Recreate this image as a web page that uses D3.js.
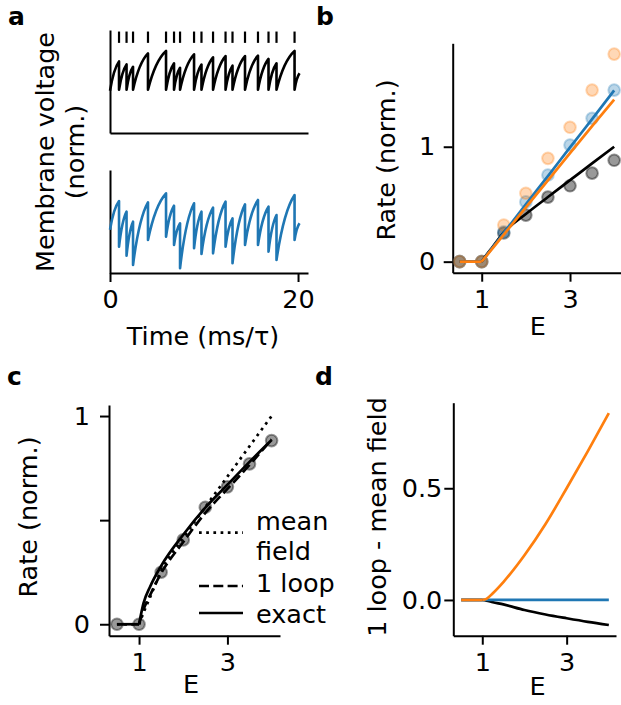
<!DOCTYPE html>
<html>
<head>
<meta charset="utf-8">
<script src="https://cdn.jsdelivr.net/npm/d3@7"></script>
<style>
  body { margin: 0; background: #fff; }
  text { font-family: "DejaVu Sans", sans-serif; fill: #000; }
</style>
</head>
<body>
<div id="fig"></div>
<script>
// ---- values ----

// panel a : spike times (ms/tau), voltage just before each spike and just after it
var spikeTimes = [0.96, 1.76, 2.45, 4.04, 5.96, 6.81, 7.45, 8.94, 9.73, 10.96, 12.29, 13.03, 14.36, 15.74, 16.86, 17.71, 19.63];
var traceEndTime = 20.16;
var blackStartV = 0.41;
var blackPeakV = [0.695, 0.666, 0.643, 0.773, 0.797, 0.676, 0.633, 0.764, 0.664, 0.735, 0.747, 0.654, 0.747, 0.751, 0.719, 0.676, 0.797];
var blackResetV = [0.42, 0.42, 0.42, 0.42, 0.42, 0.42, 0.42, 0.42, 0.42, 0.42, 0.42, 0.42, 0.42, 0.42, 0.42, 0.42, 0.42];
var blackEndV = 0.58;
var blueStartV = 0.42;
var bluePeakV = [0.699, 0.595, 0.498, 0.686, 0.774, 0.653, 0.483, 0.677, 0.595, 0.634, 0.692, 0.531, 0.667, 0.709, 0.644, 0.563, 0.757];
var blueTroughV = [0.255, 0.168, 0.078, 0.320, 0.352, 0.272, 0.046, 0.240, 0.184, 0.191, 0.255, 0.094, 0.272, 0.272, 0.207, 0.126, 0.320];
var blueEndV = 0.483;
var timeTicks = [0, 20];

// panel b / c : simulated rates (dots)
var simE = [0.5, 1, 1.5, 2, 2.5, 3, 3.5, 4];
var simRateBlack = [0, 0, 0.25, 0.405, 0.562, 0.66, 0.77, 0.882];
var simRateBlue = [0, 0, 0.26, 0.52, 0.754, 1.015, 1.247, 1.493];
var simRateOrange = [0, 0, 0.319, 0.595, 0.899, 1.169, 1.493, 1.806];

// theory curves
var lineE = [0.5, 1, 1.1, 1.25, 1.5, 2, 2.5, 3, 3.5, 4];
var mfRateBlack = [0, 0, 0.055, 0.13, 0.255, 0.415, 0.563, 0.709, 0.855, 1.0];
var mfRateBlue = [0, 0, 0.05, 0.125, 0.25, 0.5, 0.745, 0.995, 1.24, 1.49];
var mfRateOrange = [0, 0, 0.047, 0.118, 0.236, 0.472, 0.708, 0.944, 1.18, 1.41];
var oneLoopRate = [0, 0, 0.07, 0.14, 0.245, 0.395, 0.535, 0.65, 0.765, 0.888];
var exactRate = [0, 0, 0.1, 0.18, 0.28, 0.43, 0.56, 0.67, 0.78, 0.885];

// panel d : 1 loop - mean field
var diffBlack = [0, 0, -0.003, -0.01, -0.02, -0.045, -0.065, -0.082, -0.098, -0.112];
var diffBlue = [0, 0, 0, 0, 0, 0, 0, 0, 0, 0];
var diffOrange = [0, 0, 0.005, 0.03, 0.08, 0.2, 0.34, 0.5, 0.665, 0.836];

var eTicks = [1, 3];
var rateTicksB = [0, 1];
var rateTicksC = [0, 0.5, 1];
var rateTickLabelsC = ["0", "", "1"];
var diffTicks = [0, 0.5];

// ---- drawing ----
var blue = "#1f77b4", orange = "#ff7f0e";
var fs = 25.5;
var intFmt = d3.format("d");

var svg = d3.select("#fig").append("svg")
    .attr("width", 621)
    .attr("height", 705)
    .style("background", "#fff");

function styleAxis(g) {
  g.select(".domain").attr("stroke", "#000").attr("stroke-width", 2);
  g.selectAll(".tick line").attr("stroke", "#000").attr("stroke-width", 2);
  g.selectAll(".tick text").attr("font-size", fs).attr("font-family", "DejaVu Sans").attr("fill", "#000");
}

function bottomAxis(x, y0, ticks, pad, fmt) {
  var ax = d3.axisBottom(x).tickValues(ticks).tickSize(ticks.length ? 9 : 0).tickSizeOuter(0).tickPadding(pad)
    .tickFormat(fmt || intFmt);
  var g = svg.append("g").attr("transform", "translate(0," + y0 + ")").call(ax);
  styleAxis(g);
}

function leftAxis(y, x0, ticks, pad, fmt) {
  var ax = d3.axisLeft(y).tickValues(ticks).tickSize(ticks.length ? 9 : 0).tickSizeOuter(0).tickPadding(pad)
    .tickFormat(fmt || intFmt);
  var g = svg.append("g").attr("transform", "translate(" + x0 + ",0)").call(ax);
  styleAxis(g);
}

// sawtooth voltage: concave rise between spikes, instant drop at each spike
function sawPath(x, y, startV, peaks, troughs, endV) {
  var times = spikeTimes.concat([traceEndTime]);
  var tops = peaks.concat([endV]);
  var t0 = 0, v0 = startV;
  var d = "M" + x(t0) + "," + y(v0);
  times.forEach(function(t, i) {
    var x0 = x(t0), y0 = y(v0), x1 = x(t), y1 = y(tops[i]);
    d += "Q" + (x0 + 0.4 * (x1 - x0)) + "," + (y0 + 0.75 * (y1 - y0)) + " " + x1 + "," + y1;
    if (i < spikeTimes.length) {
      t0 = t; v0 = troughs[i];
      d += "L" + x1 + "," + y(v0);
    }
  });
  return d;
}

// curve that keeps the kink at E = 1
function kinkLine(x, y, es, vs, color, dash) {
  var pts = es.map(function(e, i) { return [e, vs[i]]; });
  var flat = pts.filter(function(p) { return p[0] <= 1; });
  var rise = pts.filter(function(p) { return p[0] >= 1; });
  [[flat, d3.curveLinear], [rise, d3.curveMonotoneX]].forEach(function(part) {
    svg.append("path")
      .attr("d", d3.line().x(function(p) { return x(p[0]); }).y(function(p) { return y(p[1]); }).curve(part[1])(part[0]))
      .attr("fill", "none")
      .attr("stroke", color)
      .attr("stroke-width", 2.7)
      .attr("stroke-linejoin", "round")
      .attr("stroke-dasharray", dash || null);
  });
}

function dots(x, y, vs, color, op) {
  svg.append("g").selectAll("circle")
    .data(simE)
    .enter()
    .append("circle")
      .attr("cx", function(e) { return x(e); })
      .attr("cy", function(e, i) { return y(vs[i]); })
      .attr("r", 5.8)
      .attr("fill", color)
      .attr("fill-opacity", op)
      .attr("stroke", color)
      .attr("stroke-opacity", op)
      .attr("stroke-width", 2);
}

function label(txt, x, y, opts) {
  opts = opts || {};
  var t = svg.append("text")
    .attr("font-size", opts.size || fs)
    .attr("font-weight", opts.bold ? "bold" : null)
    .attr("text-anchor", opts.anchor || "start")
    .text(txt);
  if (opts.rotate) t.attr("transform", "translate(" + x + "," + y + ") rotate(-90)");
  else t.attr("x", x).attr("y", y);
  return t;
}

// ---------- panel a ----------
var xA = d3.scaleLinear().domain([0, 21.06]).range([110, 308]);
var yTop = d3.scaleLinear().domain([0, 1]).range([133, 30]);
var yBot = d3.scaleLinear().domain([0, 1]).range([273, 170]);

bottomAxis(xA, 133, [], 0);
leftAxis(yTop, 110, [], 0);
bottomAxis(xA, 273, timeTicks, 8);
leftAxis(yBot, 110, [], 0);

// spike raster
svg.append("g").selectAll("line")
  .data(spikeTimes)
  .enter()
  .append("line")
    .attr("x1", function(t) { return xA(t); })
    .attr("x2", function(t) { return xA(t); })
    .attr("y1", yTop(0.875))
    .attr("y2", yTop(0.985))
    .attr("stroke", "#000")
    .attr("stroke-width", 2.2);

svg.append("path")
  .attr("d", sawPath(xA, yTop, blackStartV, blackPeakV, blackResetV, blackEndV))
  .attr("fill", "none").attr("stroke", "#000").attr("stroke-width", 2.6).attr("stroke-linejoin", "round");

svg.append("path")
  .attr("d", sawPath(xA, yBot, blueStartV, bluePeakV, blueTroughV, blueEndV))
  .attr("fill", "none").attr("stroke", blue).attr("stroke-width", 2.6).attr("stroke-linejoin", "round");

label("Membrane voltage", 53.5, 152, { rotate: true, anchor: "middle" });
label("(norm.)", 84, 152, { rotate: true, anchor: "middle" });
label("Time (ms/τ)", 203, 345, { anchor: "middle" });
label("a", 8, 25, { bold: true, size: 25 });

// ---------- panel b ----------
var xB = d3.scaleLinear().domain([0.343, 4.2]).range([452.7, 623]);
var yB = d3.scaleLinear().domain([-0.096, 1.9]).range([272.7, 43.3]);

bottomAxis(xB, 272.7, eTicks, 8);
leftAxis(yB, 452.7, rateTicksB, 8.5);

dots(xB, yB, simRateBlack, "#000", 0.4);
dots(xB, yB, simRateBlue, blue, 0.3);
dots(xB, yB, simRateOrange, orange, 0.3);
kinkLine(xB, yB, lineE, mfRateBlack, "#000");
kinkLine(xB, yB, lineE, mfRateBlue, blue);
kinkLine(xB, yB, lineE, mfRateOrange, orange);

label("Rate (norm.)", 395, 160, { rotate: true, anchor: "middle" });
label("E", 537.7, 335, { anchor: "middle" });
label("b", 316, 25, { bold: true, size: 25 });

// ---------- panel c ----------
var xC = d3.scaleLinear().domain([0.32, 4.19]).range([109, 280]);
var yC = d3.scaleLinear().domain([-0.055, 1.053]).range([635.7, 405]);

bottomAxis(xC, 635.7, eTicks, 8);
leftAxis(yC, 109, rateTicksC, 10, function(d, i) { return rateTickLabelsC[i]; });

dots(xC, yC, simRateBlack, "#000", 0.4);
kinkLine(xC, yC, lineE, mfRateBlack, "#000", "2.7,4.5");
kinkLine(xC, yC, lineE, oneLoopRate, "#000", "10,4.3");
kinkLine(xC, yC, lineE, exactRate, "#000");

// legend
var legendRows = [
  { y: 532.7, dash: "2.7,4.5", text: ["mean", "field"], ty: [530, 560] },
  { y: 586, dash: "10,4.3", text: ["1 loop"], ty: [592] },
  { y: 613, dash: null, text: ["exact"], ty: [623] }
];
legendRows.forEach(function(r) {
  svg.append("line")
    .attr("x1", 199).attr("x2", 243).attr("y1", r.y).attr("y2", r.y)
    .attr("stroke", "#000").attr("stroke-width", 2.7)
    .attr("stroke-dasharray", r.dash);
  r.text.forEach(function(t, i) { label(t, 256, r.ty[i]); });
});

label("Rate (norm.)", 37, 517, { rotate: true, anchor: "middle" });
label("E", 191, 693, { anchor: "middle" });
label("c", 7, 385, { bold: true, size: 25 });

// ---------- panel d ----------
var xD = d3.scaleLinear().domain([0.313, 4.17]).range([453.3, 616]);
var yD = d3.scaleLinear().domain([-0.16, 0.883]).range([635.7, 402.7]);

bottomAxis(xD, 635.7, eTicks, 8);
leftAxis(yD, 453.3, diffTicks, 2, d3.format(".1f"));

kinkLine(xD, yD, lineE, diffBlack, "#000");
kinkLine(xD, yD, lineE, diffBlue, blue);
kinkLine(xD, yD, lineE, diffOrange, orange);

label("1 loop - mean field", 386, 517, { rotate: true, anchor: "middle" });
label("E", 537.5, 695, { anchor: "middle" });
label("d", 315, 385, { bold: true, size: 25 });
</script>
</body>
</html>
